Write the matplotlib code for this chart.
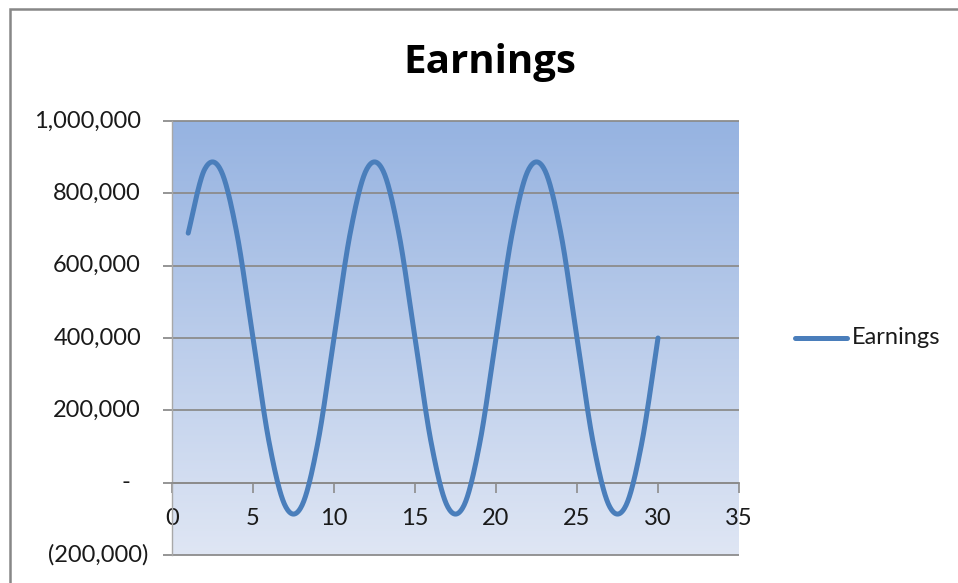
import numpy as np
import matplotlib
matplotlib.use("Agg")
import matplotlib.pyplot as plt
from matplotlib.patches import Rectangle
from matplotlib.lines import Line2D
from matplotlib.colors import LinearSegmentedColormap
import matplotlib.transforms as mtransforms

# Earnings per period
periods = list(range(1, 31))
earnings = [
    690000, 865000, 865000, 690000, 400000, 110000, -65000, -65000, 110000, 400000,
    690000, 865000, 865000, 690000, 400000, 110000, -65000, -65000, 110000, 400000,
    690000, 865000, 865000, 690000, 400000, 110000, -65000, -65000, 110000, 400000,
]
y_ticks = [-200000, 0, 200000, 400000, 600000, 800000, 1000000]
x_ticks = [0, 5, 10, 15, 20, 25, 30, 35]

LINE_COLOR = "#4A7EBB"
GRID_COLOR = "#8C8C8C"
FONT = "Lato"
FS = 17


def smooth_curve(xs, ys, steps=30):
    """Catmull-Rom style smoothing through every data point."""
    xs = np.asarray(xs, float)
    ys = np.asarray(ys, float)
    px = np.concatenate([[xs[0]], xs, [xs[-1]]])
    py = np.concatenate([[ys[0]], ys, [ys[-1]]])
    out_x, out_y = [], []
    t = np.linspace(0, 1, steps, endpoint=False)
    for i in range(1, len(px) - 2):
        p0x, p1x, p2x, p3x = px[i - 1:i + 3]
        p0y, p1y, p2y, p3y = py[i - 1:i + 3]
        c1x, c1y = p1x + (p2x - p0x) / 6, p1y + (p2y - p0y) / 6
        c2x, c2y = p2x - (p3x - p1x) / 6, p2y - (p3y - p1y) / 6
        b0 = (1 - t) ** 3
        b1 = 3 * (1 - t) ** 2 * t
        b2 = 3 * (1 - t) * t ** 2
        b3 = t ** 3
        out_x.append(b0 * p1x + b1 * c1x + b2 * c2x + b3 * p2x)
        out_y.append(b0 * p1y + b1 * c1y + b2 * c2y + b3 * p2y)
    out_x.append([xs[-1]])
    out_y.append([ys[-1]])
    return np.concatenate(out_x), np.concatenate(out_y)


fig = plt.figure(figsize=(9.58, 5.83), dpi=100)
fig.patch.set_facecolor("white")

# outer chart frame
fig.patches.append(Rectangle((10 / 958, -0.1), 1.2, 1 - 9 / 583 + 0.1,
                             transform=fig.transFigure, fill=False,
                             edgecolor="#878787", linewidth=1.8, zorder=0))

ax = fig.add_axes([172 / 958, 1 - 555 / 583, (739 - 172) / 958, (555 - 121) / 583])
ax.set_xlim(0, 35)
ax.set_ylim(-200000, 1000000)

# vertical gradient plot background
cmap = LinearSegmentedColormap.from_list("bg", ["#DFE6F4", "#96B3E1"])
grad = np.linspace(0, 1, 256).reshape(-1, 1)
ax.imshow(grad, extent=[0, 35, -200000, 1000000], origin="lower",
          aspect="auto", cmap=cmap, zorder=0)

# horizontal gridlines (extended to the left as tick marks)
for v in y_ticks:
    ax.plot([-0.55, 35], [v, v], color=GRID_COLOR, lw=1.3, zorder=1,
            clip_on=False, solid_capstyle="butt")

for s in ["top", "right"]:
    ax.spines[s].set_visible(False)
ax.spines["left"].set_color("#A8A8A8")
ax.spines["left"].set_linewidth(1.0)
ax.spines["bottom"].set_position(("data", 0))
ax.spines["bottom"].set_color(GRID_COLOR)
ax.spines["bottom"].set_linewidth(1.3)

ax.set_xticks(x_ticks)
ax.set_xticklabels([str(v) for v in x_ticks])
ax.tick_params(axis="x", direction="out", length=7, width=1.2, color=GRID_COLOR,
               pad=11, labelsize=FS)
for lab in ax.get_xticklabels():
    lab.set_fontfamily(FONT)
    lab.set_color("#1A1A1A")

ax.set_yticks(y_ticks)
ax.set_yticklabels([])
ax.tick_params(axis="y", length=0)


def fmt(v):
    if v == 0:
        return "-"
    if v < 0:
        return "({:,})".format(-v)
    return "{:,}".format(v)


ytrans = mtransforms.blended_transform_factory(fig.transFigure, ax.transData)
for v in y_ticks:
    if v == 0:
        ax.text(126 / 958, v, "-", transform=ytrans, ha="center", va="center",
                fontsize=FS, family=FONT, color="#1A1A1A")
    elif v < 0:
        ax.text(148 / 958, v, fmt(v), transform=ytrans, ha="right", va="center",
                fontsize=FS, family=FONT, color="#1A1A1A")
    else:
        ax.text(141 / 958, v, fmt(v), transform=ytrans, ha="right", va="center",
                fontsize=FS, family=FONT, color="#1A1A1A")

sx, sy = smooth_curve(periods, earnings)
ax.plot(sx, sy, color=LINE_COLOR, lw=3.6, solid_capstyle="round",
        solid_joinstyle="round", zorder=3)

fig.text(490 / 958, 1 - 62 / 583, "Earnings", ha="center", va="center",
         fontsize=29, fontweight="bold", family="Open Sans", color="black")

# legend
fig.lines.append(Line2D([795 / 958, 847 / 958], [1 - 338 / 583] * 2,
                        transform=fig.transFigure, color=LINE_COLOR, lw=3.6,
                        solid_capstyle="round"))
fig.text(852 / 958, 1 - 338 / 583, "Earnings", ha="left", va="center",
         fontsize=FS, family=FONT, color="#1A1A1A")

fig.savefig("out.png", dpi=100, facecolor="white")
